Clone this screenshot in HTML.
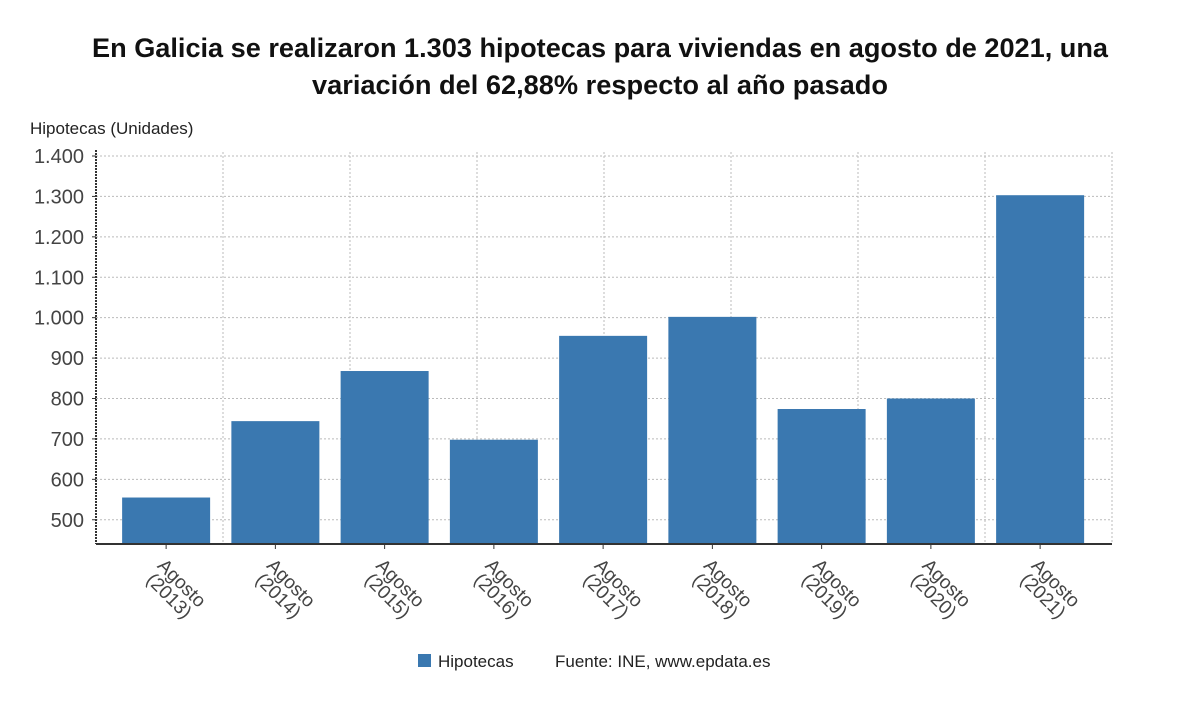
<!DOCTYPE html>
<html><head><meta charset="utf-8"><style>
body{margin:0;background:#fff;font-family:"Liberation Sans","DejaVu Sans",sans-serif;}
</style></head><body>
<svg width="1200" height="705" viewBox="0 0 1200 705">
<text x="600" y="57" text-anchor="middle" font-size="26.5" font-weight="bold" fill="#111" textLength="1016" lengthAdjust="spacingAndGlyphs">En Galicia se realizaron 1.303 hipotecas para viviendas en agosto de 2021, una</text>
<text x="600" y="94" text-anchor="middle" font-size="26.5" font-weight="bold" fill="#111" textLength="576" lengthAdjust="spacingAndGlyphs">variación del 62,88% respecto al año pasado</text>
<text x="30" y="134" font-size="17" fill="#222">Hipotecas (Unidades)</text>
<g id="grid"></g><g id="bars"></g><g id="axes"></g>
<rect x="418" y="654" width="13" height="13" fill="#3a78b0"/>
<text x="438" y="667" font-size="17" fill="#222">Hipotecas</text>
<text x="555" y="667" font-size="17" fill="#222">Fuente: INE, www.epdata.es</text>
</svg>
<script>
const categories=["2013","2014","2015","2016","2017","2018","2019","2020","2021"];
const values=[555,744,868,698,955,1002,774,800,1303];
const yTicks=[500,600,700,800,900,1000,1100,1200,1300,1400];
const yTickLabels=["500","600","700","800","900","1.000","1.100","1.200","1.300","1.400"];
const NS="http://www.w3.org/2000/svg";
const L=96,R=1112,T=156,B=544,yMin=440,yMax=1400;
const y=v=>B-(v-yMin)/(yMax-yMin)*(B-T);
const bandStart=111.5,bandW=109.25,barW=88;
const xc=i=>bandStart+bandW*(i+0.5);
function mk(tag,attrs,parent){const e=document.createElementNS(NS,tag);for(const k in attrs)e.setAttribute(k,attrs[k]);parent.appendChild(e);return e;}
const grid=document.getElementById('grid'),bars=document.getElementById('bars'),axes=document.getElementById('axes');
yTicks.forEach((t,i)=>{
 const gl=mk('line',{x1:L,x2:R,y1:y(t),y2:y(t),stroke:'#bbb','stroke-dasharray':'2,2'},grid);
 
 
 const tk=mk('line',{x1:L-4,x2:L,y1:y(t),y2:y(t),stroke:'#333'},axes);
 
 
 const lb=mk('text',{x:L-12,y:y(t)+7,'text-anchor':'end','font-size':20,fill:'#444'},axes);
 lb.textContent=yTickLabels[i];
 
 
});
for(let k=1;k<=8;k++){const gx=L+k*(R-L)/8;
 const vl=mk('line',{x1:gx,x2:gx,y1:T-4,y2:B,stroke:'#bbb','stroke-dasharray':'2,2'},grid);
 
 
}
values.forEach((v,i)=>{
 const r=mk('rect',{x:xc(i)-barW/2,y:y(v),width:barW,height:B-y(v),fill:'#3a78b0'},bars);
 
 
 const tk=mk('line',{x1:xc(i),x2:xc(i),y1:B,y2:B+5,stroke:'#333'},axes);
 
 
 const g=mk('g',{transform:`translate(${xc(i)},548) rotate(45)`},axes);
 
 
 const t1=mk('text',{x:36,y:20,'text-anchor':'middle','font-size':19,fill:'#444'},g);t1.textContent='Agosto';
 const t2=mk('text',{x:36,y:38,'text-anchor':'middle','font-size':19,fill:'#444'},g);t2.textContent='('+categories[i]+')';
});
const ya=mk('line',{x1:L,x2:L,y1:T-6,y2:B,stroke:'#333','stroke-width':2,'stroke-dasharray':'2,1'},axes);


const xa=mk('line',{x1:L,x2:R,y1:B,y2:B,stroke:'#333','stroke-width':2},axes);


</script>
</body></html>
